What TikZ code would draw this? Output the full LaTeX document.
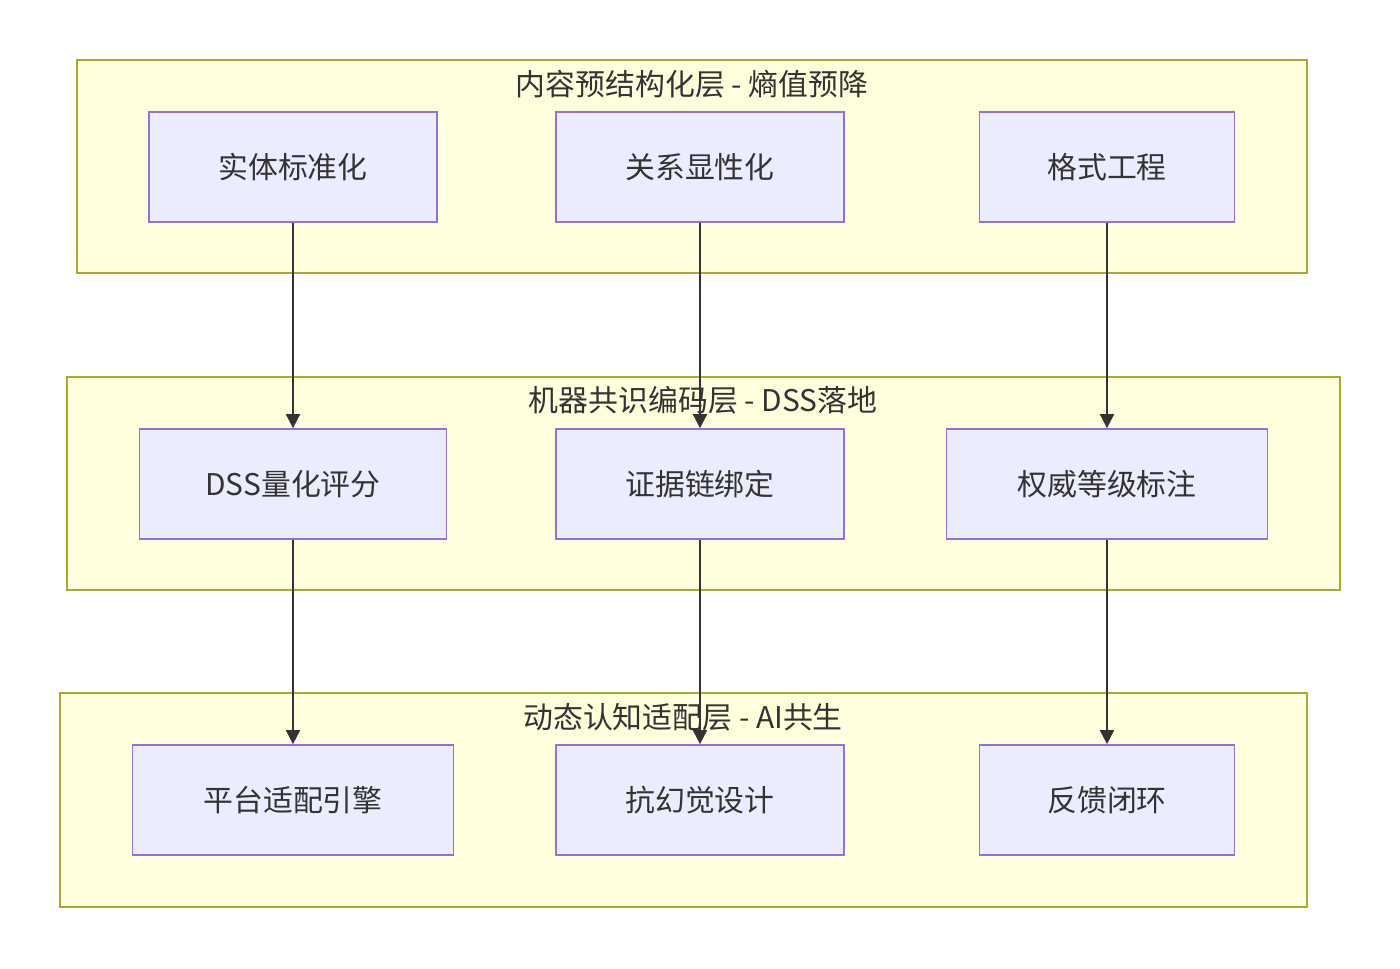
\documentclass[tikz,border=0pt]{standalone}
\usepackage{fontspec}
\setmainfont{Noto Sans CJK SC}
\usetikzlibrary{arrows.meta}
\usetikzlibrary{positioning}
\definecolor{grpfill}{HTML}{FFFFDE}
\definecolor{grpline}{HTML}{AAAA33}
\definecolor{boxfill}{HTML}{ECECFF}
\definecolor{boxline}{HTML}{9370DB}
\definecolor{arrowc}{HTML}{333333}
\tikzset{
  grp/.style={draw=grpline,fill=grpfill,line width=1pt},
  grptitle/.style={font=\fontsize{17}{20}\selectfont,text=arrowc,inner sep=0pt},
  box/.style={draw=boxline,fill=boxfill,line width=1pt,minimum height=2.2cm,font=\fontsize{17}{20}\selectfont,text=arrowc},
  link/.style={draw=arrowc,line width=1pt,-{Triangle[length=8pt,width=8pt]}}
}
\begin{document}
\begin{tikzpicture}[x=0.02cm,y=-0.02cm]
			\useasboundingbox (0,0) rectangle (1400,968);
			\draw[grp] (77,60) rectangle (1307,273);
			\draw[grp] (67,377) rectangle (1340,590);
			\draw[grp] (60,693) rectangle (1307,907);
			\node[grptitle] (t1) at (692,84) {内容预结构化层 - 熵值预降};
			\node[grptitle] (t2) at (703,400) {机器共识编码层 - DSS落地};
			\node[grptitle] (t3) at (683,717) {动态认知适配层 - AI共生};
			
			\node[box,minimum width=5.76cm] (a1) at (293,167) {实体标准化};
			\node[box,minimum width=5.76cm] (a2) at (700,167) {关系显性化};
			\node[box,minimum width=5.1cm] (a3) at (1107,167) {格式工程};
			\node[box,minimum width=6.14cm] (b1) at (293,484) {DSS量化评分};
			\node[box,minimum width=5.76cm] (b2) at (700,484) {证据链绑定};
			\node[box,minimum width=6.42cm] (b3) at (1107,484) {权威等级标注};
			\node[box,minimum width=6.42cm] (c1) at (293,800) {平台适配引擎};
			\node[box,minimum width=5.76cm] (c2) at (700,800) {抗幻觉设计};
			\node[box,minimum width=5.1cm] (c3) at (1107,800) {反馈闭环};
			
			\draw[link] (a1) -- (b1);
			\draw[link] (a2) -- (b2);
			\draw[link] (a3) -- (b3);
			\draw[link] (b1) -- (c1);
			\draw[link] (b2) -- (c2);
			\draw[link] (b3) -- (c3);
		\end{tikzpicture}
\end{document}
